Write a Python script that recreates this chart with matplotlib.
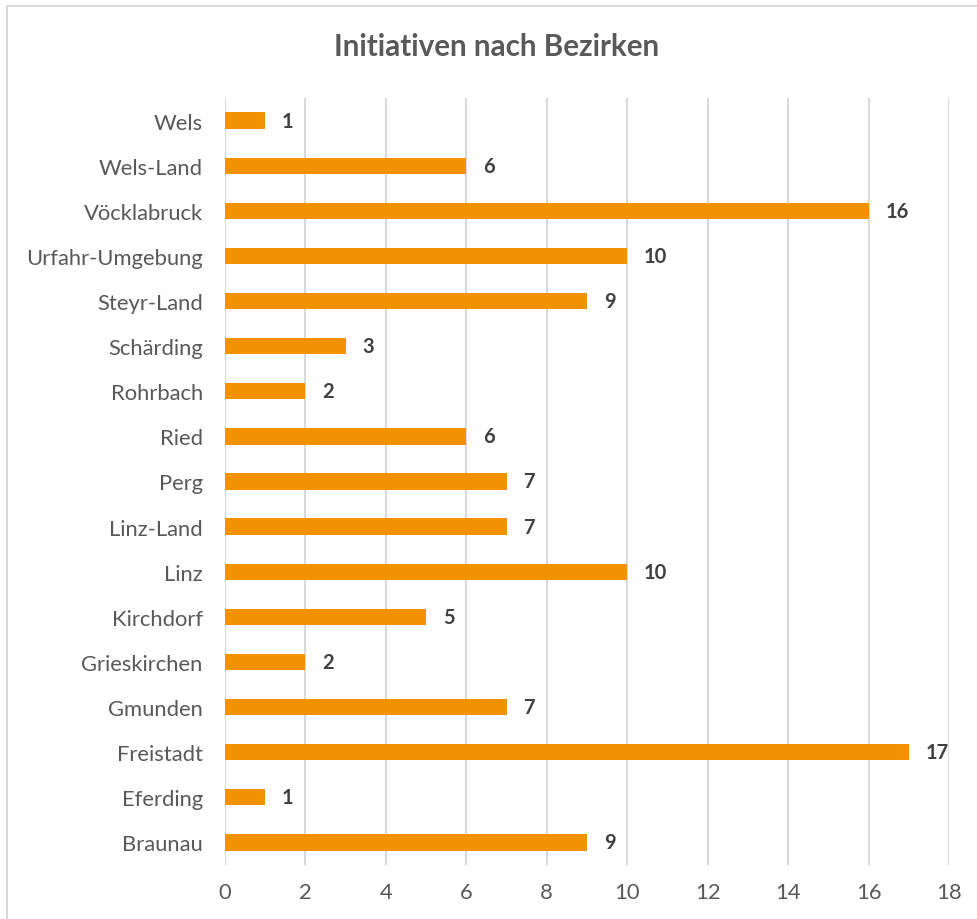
import matplotlib
matplotlib.use("Agg")
import matplotlib.pyplot as plt
from matplotlib.patches import Rectangle

categories = ["Wels", "Wels-Land", "Vöcklabruck", "Urfahr-Umgebung", "Steyr-Land",
              "Schärding", "Rohrbach", "Ried", "Perg", "Linz-Land", "Linz",
              "Kirchdorf", "Grieskirchen", "Gmunden", "Freistadt", "Eferding", "Braunau"]
values = [1, 6, 16, 10, 9, 3, 2, 6, 7, 7, 10, 5, 2, 7, 17, 1, 9]
xticks = [0, 2, 4, 6, 8, 10, 12, 14, 16, 18]
title = "Initiativen nach Bezirken"

plt.rcParams['font.family'] = ['Lato', 'DejaVu Sans']

W, H = 978, 920
fig = plt.figure(figsize=(W / 100, H / 100), dpi=100)
fig.patches.append(Rectangle((7 / W, -0.1), 1.2, (H - 7) / H + 0.1, transform=fig.transFigure,
                             fill=False, edgecolor="#d9d9d9", linewidth=1.5))

ax = fig.add_axes([225 / W, 1 - 866 / H, (949 - 225) / W, (866 - 99) / H])
n = len(categories)
ypos = list(range(n))
ax.barh(ypos, values, height=0.36, color="#F39200", zorder=3)
ax.set_ylim(n - 0.5, -0.5)
ax.set_xlim(0, 18)
ax.set_xticks(xticks)
ax.set_yticks(ypos)
ax.set_yticklabels(categories)
ax.grid(axis="x", color="#d9d9d9", linewidth=1.5, zorder=0)
for s in ax.spines.values():
    s.set_visible(False)
ax.tick_params(axis="both", length=0, labelsize=15.8, labelcolor="#595959")
ax.tick_params(axis="y", pad=16)
ax.tick_params(axis="x", pad=12)

for y, v in zip(ypos, values):
    ax.annotate(str(v), (v, y), xytext=(12, 0), textcoords="offset points",
                ha="left", va="center", fontsize=14.5, fontweight="bold", color="#404040")

fig.text(497 / W, 1 - 47 / H, title, ha="center", va="center", fontsize=21.3,
         fontweight="bold", color="#595959")

fig.savefig("out.png", dpi=100)
